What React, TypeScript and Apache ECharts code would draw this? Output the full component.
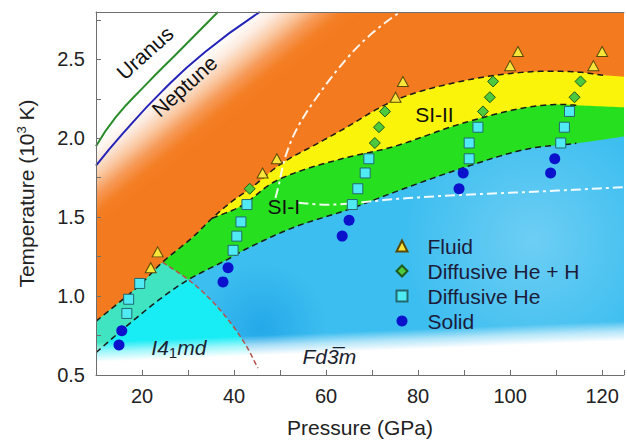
import React, { useEffect, useRef } from 'react';
import * as echarts from 'echarts';

const FONT = '"Liberation Sans", Arial, Helvetica, sans-serif';

// ---------- axis ranges ----------
const pressureRange = [10, 124.75];
const temperatureRange = [0.5, 2.8];

// ---------- simulation points [P (GPa), T (10^3 K)] ----------
const fluid = [
  [21.9, 1.18], [23.4, 1.28], [46.2, 1.78], [49.3, 1.87], [75.1, 2.26],
  [76.7, 2.36], [100.0, 2.46], [101.7, 2.55], [118.1, 2.46], [120.0, 2.55],
];
const diffusiveHeH = [
  [43.4, 1.68], [70.6, 1.97], [71.5, 2.07], [72.8, 2.17], [94.1, 2.17],
  [95.6, 2.26], [96.3, 2.36], [114.0, 2.26], [115.3, 2.36],
];
const diffusiveHe = [
  [16.7, 0.89], [17.1, 0.98], [19.5, 1.08], [39.8, 1.29], [40.6, 1.38],
  [41.5, 1.47], [42.8, 1.58], [65.7, 1.58], [66.9, 1.68], [68.5, 1.78],
  [69.3, 1.87], [91.1, 1.87], [91.1, 1.97], [93.0, 2.07], [111.0, 1.97],
  [111.8, 2.07], [112.9, 2.17],
];
const solid = [
  [15.0, 0.69], [15.6, 0.78], [37.6, 1.09], [38.7, 1.18], [63.5, 1.38],
  [65.0, 1.48], [88.9, 1.68], [89.8, 1.78], [108.8, 1.78], [109.7, 1.87],
];

// ---------- phase boundaries ----------
const fluidBoundary = [
  [10, 0.84], [19.5, 1.07], [24.45, 1.215], [30.9, 1.37], [35.24, 1.493],
  [39.55, 1.6], [43.9, 1.69], [50.3, 1.84], [57.7, 1.96], [63.3, 2.05],
  [74.9, 2.24], [89.2, 2.36], [103.6, 2.42], [114.4, 2.42], [120.2, 2.4],
  [124.75, 2.39],
];
const siBoundary = [
  [35.24, 1.493], [41.7, 1.573], [48.2, 1.715], [54.0, 1.789], [64.1, 1.875],
  [74.9, 1.949], [89.2, 2.091], [103.6, 2.196], [110.7, 2.214], [115.0, 2.208],
  [124.75, 2.196],
];
const solidBoundary = [
  [10, 0.642], [17.1, 0.821], [24.45, 0.993], [30.06, 1.104], [38.7, 1.234],
  [42.4, 1.295], [53.1, 1.437], [64.8, 1.548], [74.9, 1.659], [89.2, 1.807],
  [103.6, 1.931], [114.4, 1.968], [124.75, 2.011],
];
const phaseBoundary = [
  [24.45, 1.215], [30.06, 1.104], [34.4, 0.993], [38.7, 0.851], [42.4, 0.697], [45.2, 0.543],
];
const dashEnds = [120.2, 115.0, 114.4];
const meltSteep = [
  [49.0, 1.622], [49.7, 1.702], [51.2, 1.887], [54.0, 2.079], [60.7, 2.368],
  [67.0, 2.584], [72.3, 2.72], [76.7, 2.812],
];
const meltFlat = [
  [54.0, 1.591], [60.5, 1.579], [75.6, 1.616], [89.2, 1.641], [103.6, 1.659], [124.75, 1.69],
];

// ---------- planetary isentropes ----------
const uranus = [[10, 1.949], [14.3, 2.134], [20.8, 2.338], [27.9, 2.547], [36.5, 2.8]];
const neptune = [[10, 1.826], [15.8, 2.029], [24.45, 2.3], [33.7, 2.547], [45.6, 2.8]];

// ---------- labels ----------
const regionLabelText = ['SI-II', 'SI-I', '{it|I4}{sub|1}{it|md}', '{it|Fd3\u0305m}', 'Uranus', 'Neptune'];
const regionLabelPos = [[83.55, 2.153], [50.8, 1.567], [28.0, 0.673], [60.7, 0.617], [20.6, 2.541], [29.2, 2.331]];
const regionLabelAngle = [0, 0, 0, 0, 42, 42];

const legendNames = ['Fluid', 'Diffusive He + H', 'Diffusive He', 'Solid'];

function spline(pts: number[][], n = 12): number[][] {
  if (pts.length < 3) return pts.slice();
  const last = pts[pts.length - 1];
  const prev = pts[pts.length - 2];
  const ext = [
    [2 * pts[0][0] - pts[1][0], 2 * pts[0][1] - pts[1][1]],
    ...pts,
    [2 * last[0] - prev[0], 2 * last[1] - prev[1]],
  ];
  const d = (a: number[], b: number[]) => Math.max(Math.sqrt(Math.hypot(b[0] - a[0], b[1] - a[1])), 1e-3);
  const out: number[][] = [];
  for (let i = 1; i < ext.length - 2; i++) {
    const p0 = ext[i - 1], p1 = ext[i], p2 = ext[i + 1], p3 = ext[i + 2];
    const t0 = 0, t1 = d(p0, p1), t2 = t1 + d(p1, p2), t3 = t2 + d(p2, p3);
    for (let k = 0; k < n; k++) {
      const t = t1 + ((t2 - t1) * k) / n;
      const L = (a: number[], b: number[], ta: number, tb: number) => [
        (a[0] * (tb - t)) / (tb - ta) + (b[0] * (t - ta)) / (tb - ta),
        (a[1] * (tb - t)) / (tb - ta) + (b[1] * (t - ta)) / (tb - ta),
      ];
      const A1 = L(p0, p1, t0, t1), A2 = L(p1, p2, t1, t2), A3 = L(p2, p3, t2, t3);
      const B1 = L(A1, A2, t0, t2), B2 = L(A2, A3, t1, t3);
      out.push(L(B1, B2, t1, t2));
    }
  }
  out.push(last.slice());
  return out;
}

const upTo = (a: number[][], x: number) => a.filter((p) => p[0] <= x + 0.01);
const fromX = (a: number[][], x: number) => a.filter((p) => p[0] >= x - 0.01);

// colour ramp of the white haze, by distance (px) from the top-left corner across the diagonal
const hazeRamp: [number, number[]][] = [
  [0, [255, 255, 255]], [100, [255, 255, 255]], [114, [253, 236, 224]], [128, [250, 200, 162]],
  [142, [246, 154, 88]], [156, [244, 126, 36]], [170, [244, 122, 31]],
];
function hazeColor(u: number) {
  for (let i = 1; i < hazeRamp.length; i++) {
    if (u <= hazeRamp[i][0]) {
      const [u0, c0] = hazeRamp[i - 1];
      const [u1, c1] = hazeRamp[i];
      const f = (u - u0) / (u1 - u0);
      const c = c0.map((v, k) => Math.round(v + (c1[k] - v) * f));
      return `rgb(${c[0]},${c[1]},${c[2]})`;
    }
  }
  const c = hazeRamp[hazeRamp.length - 1][1];
  return `rgb(${c[0]},${c[1]},${c[2]})`;
}

function renderRegions(params: any, api: any) {
  const cs = params.coordSys;
  const xl = cs.x, xr = cs.x + cs.width, yt = cs.y, yb = cs.y + cs.height;
  const c = (p: number[]) => api.coord(p);
  const U = spline(fluidBoundary.map(c));
  const M = spline(siBoundary.map(c));
  const L = spline(solidBoundary.map(c));
  const R = spline(phaseBoundary.map(c));
  const W1 = spline(meltSteep.map(c));
  const W2 = spline(meltFlat.map(c));
  const Jx = M[0][0];
  const R0x = R[0][0];
  const Ix = c(phaseBoundary[1])[0];
  const Rend = R[R.length - 1];
  const BR = [xr + 5, yb + 5], BL = [xl - 5, yb + 5];

  // haze bands (largest first, whiter ones on top)
  const nx = 0.631, ny = 0.776, dx = 0.776, dy = -0.631;
  const haze: any[] = [];
  for (let b = 170; b > 0; b -= 2) {
    const a = -60;
    haze.push({
      type: 'polygon',
      shape: {
        points: [
          [xl + a * nx - 1000 * dx, yt + a * ny - 1000 * dy],
          [xl + a * nx + 1000 * dx, yt + a * ny + 1000 * dy],
          [xl + b * nx + 1000 * dx, yt + b * ny + 1000 * dy],
          [xl + b * nx - 1000 * dx, yt + b * ny - 1000 * dy],
        ],
      },
      style: { fill: hazeColor(b - 1) },
    });
  }

  const bluePts = [...L, BR, BL];
  const dark = c([46, 0.8]);
  const light = c([105, 1.35]);
  const fade = new echarts.graphic.LinearGradient(xl, yb - 33, xl + 0.8, yb - 13, [
    { offset: 0, color: 'rgba(255,255,255,0)' },
    { offset: 0.5, color: 'rgba(255,255,255,0.6)' },
    { offset: 1, color: 'rgba(255,255,255,1)' },
  ], true);

  const dashed = (pts: number[][], color: string, dash: number[], width = 1.5) => ({
    type: 'polyline',
    shape: { points: pts },
    style: { stroke: color, lineWidth: width, lineDash: dash, fill: 'none' },
  });

  return {
    type: 'group',
    children: [
      { type: 'rect', shape: { x: xl, y: yt, width: cs.width, height: cs.height }, style: { fill: '#f47a1f' } },
      ...haze,
      { type: 'polygon', shape: { points: [...U, BR, BL] }, style: { fill: '#f9f40a' } },
      { type: 'polygon', shape: { points: [...U.filter((p) => p[0] < Jx), ...M, BR, BL] }, style: { fill: '#26e01f' } },
      { type: 'polygon', shape: { points: bluePts }, style: { fill: '#3dbef0' } },
      {
        type: 'polygon', shape: { points: bluePts },
        style: { fill: new echarts.graphic.RadialGradient(dark[0], dark[1], 65, [
          { offset: 0, color: 'rgba(20,155,228,0.6)' }, { offset: 1, color: 'rgba(20,155,228,0)' }], true) },
      },
      {
        type: 'polygon', shape: { points: bluePts },
        style: { fill: new echarts.graphic.RadialGradient(light[0], light[1], 130, [
          { offset: 0, color: 'rgba(255,255,255,0.25)' }, { offset: 1, color: 'rgba(255,255,255,0)' }], true) },
      },
      {
        type: 'polygon',
        shape: { points: [...upTo(U, R0x), ...upTo(R, Ix), ...upTo(L, Ix).reverse()] },
        style: { fill: '#40e4c0' },
      },
      {
        type: 'polygon',
        shape: { points: [...upTo(L, Ix), ...fromX(R, Ix), [Rend[0], yb + 5], BL] },
        style: { fill: '#18ecf5' },
      },
      { type: 'rect', shape: { x: xl, y: yb - 62, width: cs.width, height: 67 }, style: { fill: fade } },
      dashed(upTo(U, c([dashEnds[0], 2])[0]), '#1a1a1a', [6, 4]),
      dashed(upTo(M, c([dashEnds[1], 2])[0]), '#1a1a1a', [6, 4]),
      dashed(upTo(L, c([dashEnds[2], 2])[0]), '#1a1a1a', [6, 4]),
      dashed(R, '#b8504a', [5, 3]),
      dashed(W1, 'rgba(255,255,255,0.92)', [10, 4, 3, 4], 2),
      dashed(W2, 'rgba(255,255,255,0.92)', [10, 4, 3, 4], 2),
    ],
  };
}

const axisColor = '#6e6e6e';

const option: any = {
  animation: false,
  grid: { left: 96, right: -1, top: 12, bottom: 58 },
  xAxis: [
    {
      type: 'value', min: pressureRange[0], max: pressureRange[1], interval: 10, z: 10,
      name: 'Pressure (GPa)', nameLocation: 'middle', nameGap: 42,
      nameTextStyle: { fontSize: 21, color: '#222', fontFamily: FONT },
      axisLine: { lineStyle: { color: axisColor, width: 1 } },
      axisTick: { inside: true, length: 5, lineStyle: { color: axisColor } },
      axisLabel: {
        margin: 11, fontSize: 20, color: '#222', fontFamily: FONT,
        formatter: (v: number) => (Math.abs(v - Math.round(v)) < 1e-6 && Math.round(v) % 20 === 0 ? String(Math.round(v)) : ''),
      },
      splitLine: { show: false },
    },
    {
      type: 'value', position: 'top', min: pressureRange[0], max: pressureRange[1], z: 10,
      axisLine: { show: true, lineStyle: { color: axisColor, width: 1 } },
      axisTick: { show: false }, axisLabel: { show: false }, splitLine: { show: false },
    },
  ],
  yAxis: {
    type: 'value', min: temperatureRange[0], max: temperatureRange[1], interval: 0.25, z: 10,
    name: '{a|Temperature (10}{s|3}{a| K)}', nameLocation: 'middle', nameGap: 59,
    nameTextStyle: {
      fontFamily: FONT, color: '#222',
      rich: {
        a: { fontSize: 21, color: '#222', fontFamily: FONT, lineHeight: 22 },
        s: { fontSize: 13, color: '#222', fontFamily: FONT, lineHeight: 10, verticalAlign: 'top' },
      },
    },
    axisLine: { show: true, lineStyle: { color: axisColor, width: 1 } },
    axisTick: { show: true, inside: true, length: 5, lineStyle: { color: axisColor } },
    axisLabel: {
      margin: 11, fontSize: 20, color: '#222', fontFamily: FONT,
      formatter: (v: number) => (Math.abs(v * 2 - Math.round(v * 2)) < 1e-6 ? v.toFixed(1) : ''),
    },
    splitLine: { show: false },
  },
  legend: {
    data: legendNames, orient: 'vertical', left: 390.5, top: 230.5,
    itemWidth: 11, itemHeight: 11, itemGap: 4, selectedMode: false,
    formatter: (n: string) => `{t|${n}}`,
    textStyle: {
      fontFamily: FONT, fontSize: 21, color: '#1c1c3a',
      rich: { t: { fontFamily: FONT, fontSize: 21, color: '#1c1c3a', lineHeight: 21, padding: [0, 0, 0, 15] } },
    },
  },
  series: [
    {
      type: 'custom', name: 'regions', data: [[pressureRange[0], temperatureRange[0]]],
      encode: { x: 0, y: 1 }, renderItem: renderRegions, clip: true, silent: true, z: 1,
    },
    {
      type: 'line', name: 'Uranus', data: uranus, smooth: true, symbol: 'none', z: 3, silent: true,
      lineStyle: { color: '#2a8c2a', width: 2 },
    },
    {
      type: 'line', name: 'Neptune', data: neptune, smooth: true, symbol: 'none', z: 3, silent: true,
      lineStyle: { color: '#2424b8', width: 2 },
    },
    {
      type: 'scatter', name: 'Fluid', data: fluid, symbol: 'triangle', symbolSize: [11, 10], z: 4,
      itemStyle: { color: '#f8e43a', borderColor: '#5a4a08', borderWidth: 1, opacity: 1 },
    },
    {
      type: 'scatter', name: 'Diffusive He + H', data: diffusiveHeH, symbol: 'diamond', symbolSize: 11, z: 4,
      itemStyle: { color: '#4ec83c', borderColor: '#1d5a1d', borderWidth: 1, opacity: 1 },
    },
    {
      type: 'scatter', name: 'Diffusive He', data: diffusiveHe, symbol: 'rect', symbolSize: 10, z: 4,
      itemStyle: { color: '#50eaf4', borderColor: '#23696e', borderWidth: 1, opacity: 1 },
    },
    {
      type: 'scatter', name: 'Solid', data: solid, symbol: 'circle', symbolSize: 11, z: 4,
      itemStyle: { color: '#0b12cc', opacity: 1 },
    },
    {
      type: 'scatter', name: 'labels', symbolSize: 1, z: 6, silent: true,
      itemStyle: { color: 'rgba(0,0,0,0)', opacity: 1 },
      data: regionLabelPos.map((p, i) => ({
        value: p,
        label: { rotate: regionLabelAngle[i], formatter: regionLabelText[i] },
      })),
      label: {
        show: true, position: 'inside', fontFamily: FONT, fontSize: 21, color: '#111111', opacity: 1,
        textBorderWidth: 0,
        rich: {
          it: { fontFamily: FONT, fontSize: 21, fontStyle: 'italic', color: '#1a2230', lineHeight: 24 },
          sub: { fontFamily: FONT, fontSize: 15, color: '#1a2230', lineHeight: 10, verticalAlign: 'bottom' },
        },
      },
    },
  ],
};

export default function App() {
  const ref = useRef<HTMLDivElement>(null);
  useEffect(() => {
    const chart = echarts.init(ref.current!, null, { renderer: 'svg' });
    chart.setOption(option);
    return () => chart.dispose();
  }, []);
  return <div ref={ref} style={{ position: 'absolute', left: 0, top: 0, width: 627, height: 443 }} />;
}
